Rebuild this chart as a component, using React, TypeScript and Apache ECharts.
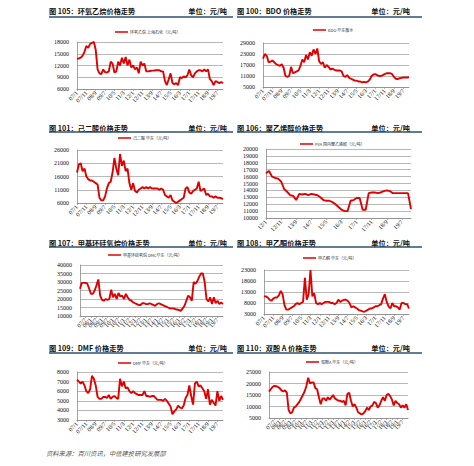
import React, { useEffect, useRef } from "react";
import * as echarts from "echarts";

// ---------- categories (bimonthly, YY/M) ----------
function bimonthly(y0: number, y1: number): string[] {
  const out: string[] = [];
  for (let y = y0; y <= y1; y++) {
    for (let m = 1; m <= 11; m += 2) {
      if (y === y1 && m > 1) break;
      out.push(`${String(y % 100).padStart(2, "0")}/${m}`);
    }
  }
  return out;
}
const CATS_07_20 = bimonthly(2007, 2020);
const CATS_12_20 = bimonthly(2012, 2020);

// ---------- tick labels ----------
const EO_TICKS = [6000, 9000, 12000, 15000, 18000];
const BDO_TICKS = [5000, 11000, 17000, 23000, 29000];
const ADA_TICKS = [6000, 11000, 16000, 21000, 26000];
const PVA_TICKS = [10000, 11000, 12000, 13000, 14000, 15000, 16000, 17000, 18000, 19000, 20000];
const DMC_TICKS = [10000, 15000, 20000, 25000, 30000, 35000, 40000];
const MEK_TICKS = [3000, 8000, 13000, 18000, 23000];
const DMF_TICKS = [3000, 4000, 5000, 6000, 7000, 8000];
const BPA_TICKS = [5000, 10000, 15000, 20000, 25000];

// ---------- series values (元/吨) ----------
const EO = [
  13700, 13800, 14000, 14500, 15500, 17000, 16500, 17500, 17800, 18000,
  16000, 11000, 10000, 9800, 11000, 10300, 10200, 10500, 13000, 12500,
  10200, 10500, 13000, 12000, 14000, 12500, 14200, 12000, 13500, 11500,
  12000, 11000, 11500, 10000, 13000, 12000, 12500, 10500, 10500, 10600,
  10700, 10700, 10800, 10800, 10800, 10500, 10500, 8000, 7000, 8500,
  10000, 7500, 7200, 7500, 7000, 9000, 8800, 9200, 9000, 9500,
  11000, 9500, 9000, 10000, 10500, 10800, 10800, 10500, 11000, 10500,
  11000, 8500, 8000, 7000, 8000, 7800, 7500, 7800, 7500,
];
const BDO = [
  20500, 23000, 22000, 18500, 18800, 19500, 18500, 17500, 17000, 16500,
  17500, 15500, 11000, 10500, 11000, 16000, 12500, 13000, 13500, 14000,
  16500, 20000, 18500, 22500, 20000, 24000, 22000, 25500, 23000, 26000,
  19000, 17500, 18500, 15500, 17000, 16000, 14500, 15000, 14500, 14000,
  14000, 14000, 13500, 11000, 10500, 11500, 10000, 9500, 9000, 8500,
  8500, 8000, 8000, 7500, 7800, 7500, 8000, 9000, 11000, 11800,
  12000, 11500, 11000, 11000, 11500, 12000, 12500, 12500, 12500, 12000,
  10500, 9500, 9300, 9800, 10000, 10200, 10200, 10200, 10300,
];
const ADA = [
  17500, 20500, 21000, 18000, 19000, 16000, 15000, 14500, 14500, 14000,
  13500, 13000, 8000, 7000, 7000, 8500, 11500, 13500, 14000, 17500,
  23000, 19000, 16500, 24500, 20000, 22000, 18000, 19000, 13500, 11000,
  13500, 10500, 10000, 11000, 11500, 12000, 11500, 12000, 11500, 12000,
  11500, 11500, 11500, 11500, 11000, 11500, 11000, 9000, 8500, 8000,
  9000, 7000, 6500, 6000, 6500, 7000, 7500, 8000, 11500, 12000,
  10000, 9500, 10500, 11000, 11500, 14000, 10500, 11000, 11500, 9000,
  9500, 8500, 8500, 8000, 8500, 8000, 8000, 7800, 7500,
];
const PVA = [
  16500, 16800, 16000, 15800, 15700, 15300, 14200, 13800, 13300, 13200,
  12600, 13500, 13400, 13500, 13300, 13500, 13400, 13300, 13000, 12600,
  12500, 12500, 12300, 12000, 11600, 11200, 11000, 11000, 12500, 12600,
  12900, 12900, 11200, 11200, 13600, 13700, 13700, 13600, 13700, 13900,
  14000, 13900, 13600, 13600, 13600, 13600, 13600, 13600, 11300,
];
const DMC = [
  26000, 29500, 29500, 29500, 29000, 26000, 23000, 23000, 25000, 28000,
  31500, 22000, 19500, 19000, 20000, 19500, 20000, 25500, 21000, 23000,
  20000, 23500, 21500, 22000, 20000, 23000, 21000, 19500, 19000, 18000,
  17500, 17000, 16500, 16500, 17500, 17500, 17000, 17000, 17500, 17000,
  16500, 16000, 17000, 17500, 17000, 16500, 16000, 15500, 15000, 14500,
  14500, 14500, 14000, 13800, 13500, 13000, 14500, 16000, 19000, 22000,
  21000, 19000, 30000, 29000, 30500, 33000, 35000, 35000, 30000, 20000,
  18500, 21000, 17000, 21000, 17500, 19000, 17000, 18000, 17000,
];
const MEK = [
  11000, 11000, 10500, 9500, 9000, 10000, 10500, 10500, 11500, 13500,
  12000, 7000, 5000, 5000, 5500, 6000, 6500, 7500, 8000, 7500,
  8000, 8500, 19500, 9500, 12000, 23000, 11000, 12500, 8000, 7500,
  8000, 7500, 8000, 8500, 8500, 8500, 8000, 8000, 7500, 8000,
  9500, 8500, 9000, 9500, 9500, 9000, 8000, 6000, 6500, 6000,
  5500, 4800, 4500, 4200, 4000, 4500, 5000, 5500, 5500, 6000,
  6500, 6500, 7000, 7500, 10000, 12000, 8500, 6500, 5500, 8000,
  6500, 6500, 6000, 5000, 8000, 8000, 7500, 7500, 5500,
];
const DMF = [
  7200, 7000, 6800, 7000, 6600, 6000, 5800, 6200, 7600, 7300,
  6600, 5400, 5200, 5200, 5400, 5400, 5300, 5600, 5200, 5400,
  5500, 5300, 5200, 7300, 6500, 7000, 6300, 6400, 6000, 5800,
  6000, 5800, 5700, 5600, 5600, 5600, 6000, 5500, 5500, 5400,
  5500, 5500, 5300, 5100, 5100, 5100, 5000, 5200, 5000, 4700,
  4400, 3600, 3900, 4100, 4500, 4300, 4200, 4500, 5300, 5600,
  6600, 5500, 4600, 6800, 7000, 6500, 6600, 6300, 6000, 5200,
  6200, 4600, 5100, 4800, 4500, 6000, 5000, 5500, 5100,
];
const BPA = [
  16500, 17500, 18500, 19000, 18800, 18500, 18000, 17000, 16500, 17000,
  16000, 8500, 7000, 7500, 9500, 10000, 11000, 12000, 13500, 15000,
  16500, 19000, 22500, 20000, 20500, 20500, 18000, 17500, 14000, 11000,
  13500, 13500, 12500, 14000, 13000, 14000, 15000, 13500, 13000, 12500,
  12500, 12000, 12500, 10500, 15500, 16000, 12500, 10000, 11000, 9500,
  7500, 7000, 6500, 7000, 8000, 9500, 8500, 10000, 10500, 12000,
  11500, 9500, 10500, 12500, 14000, 12500, 15000, 15500, 14500, 13000,
  10500, 12500, 11500, 11000, 9500, 10500, 9500, 11000, 8500,
];

// ---------- texts ----------
const TITLES = [
  "图 105：环氧乙烷价格走势",
  "图 100：BDO 价格走势",
  "图 101：己二酸价格走势",
  "图 106：聚乙烯醇价格走势",
  "图 107：甲基环硅氧烷价格走势",
  "图 108：甲乙酮价格走势",
  "图 109：DMF 价格走势",
  "图 110：双酚 A 价格走势",
];
const NAMES = [
  "环氧乙烷 上海石化（元/吨）",
  "BDO 华东散水",
  "己二酸 华东（元/吨）",
  "PVA 国内聚乙烯醇（元/吨）",
  "甲基环硅氧烷 DMC华东（元/吨）",
  "甲乙酮 华东（元/吨）",
  "DMF 华东（元/吨）",
  "双酚A 华东（元/吨）",
];
const UNIT = "单位：元/吨";
const SOURCE = "资料来源：百川资讯，中信建投研究发展部";

// ---------- layout ----------
const COLS = [
  { titleX: 49, unitX: 227, ruleX2: 233 },
  { titleX: 237, unitX: 410, ruleX2: 422 },
];
const ROWS = [
  { titleY: 11, ruleY: 17 },
  { titleY: 127.5, ruleY: 132 },
  { titleY: 242.5, ruleY: 247 },
  { titleY: 348, ruleY: 353 },
];
const PANELS = [
  { values: EO, ticks: EO_TICKS, cats: CATS_07_20, every: 5, grid: { left: 77, top: 42, width: 146, height: 47 }, legend: [115, 33] },
  { values: BDO, ticks: BDO_TICKS, cats: CATS_07_20, every: 5, grid: { left: 263, top: 43, width: 146, height: 44 }, legend: [313, 31] },
  { values: ADA, ticks: ADA_TICKS, cats: CATS_07_20, every: 5, grid: { left: 77, top: 150, width: 146, height: 53 }, legend: [118, 139] },
  { values: PVA, ticks: PVA_TICKS, cats: CATS_12_20, every: 5, grid: { left: 266, top: 149, width: 145, height: 69 }, legend: [300, 145] },
  { values: DMC, ticks: DMC_TICKS, cats: CATS_07_20, every: 3, grid: { left: 80, top: 265, width: 143, height: 51 }, legend: [108, 256] },
  { values: MEK, ticks: MEK_TICKS, cats: CATS_07_20, every: 5, grid: { left: 264, top: 270, width: 145, height: 44 }, legend: [303, 259] },
  { values: DMF, ticks: DMF_TICKS, cats: CATS_07_20, every: 5, grid: { left: 77, top: 372, width: 146, height: 48 }, legend: [118, 364] },
  { values: BPA, ticks: BPA_TICKS, cats: CATS_07_20, every: 3, grid: { left: 269, top: 372, width: 139, height: 46 }, legend: [306, 363] },
];

const RED = "#e10000";
const AXIS = "#8a8a8a";
const LABEL_FONT = "'Liberation Serif', 'DejaVu Serif', serif";
const CJK = "'Noto Sans CJK SC', sans-serif";

function buildOption() {
  const graphic: any[] = [];
  PANELS.forEach((_, i) => {
    const col = COLS[i % 2];
    const row = ROWS[Math.floor(i / 2)];
    graphic.push({
      type: "text", x: col.titleX, y: row.titleY,
      style: { text: TITLES[i], fontSize: 7.2, fontWeight: "bold", fontFamily: CJK, fill: "#111", textAlign: "left", textVerticalAlign: "middle" },
    });
    graphic.push({
      type: "text", x: col.unitX, y: row.titleY,
      style: { text: UNIT, fontSize: 7.2, fontWeight: "bold", fontFamily: CJK, fill: "#111", textAlign: "right", textVerticalAlign: "middle" },
    });
    graphic.push({
      type: "line",
      shape: { x1: col.titleX, y1: row.ruleY, x2: col.ruleX2, y2: row.ruleY },
      style: { stroke: "#2f4f6f", lineWidth: 1.5 },
    });
  });
  graphic.push({
    type: "text", x: 46, y: 453,
    style: { text: SOURCE, fontSize: 6.3, fontStyle: "italic", fontFamily: CJK, fill: "#555", textAlign: "left", textVerticalAlign: "middle" },
  });

  return {
    animation: false,
    backgroundColor: "#ffffff",
    grid: PANELS.map((p) => ({ ...p.grid, containLabel: false })),
    xAxis: PANELS.map((p, i) => ({
      type: "category",
      gridIndex: i,
      data: p.cats,
      boundaryGap: false,
      axisLine: { lineStyle: { color: AXIS, width: 0.8 } },
      axisTick: { show: true, interval: p.every - 1, length: 2, lineStyle: { color: AXIS, width: 0.6 } },
      axisLabel: { interval: p.every - 1, rotate: 45, fontSize: 6, color: "#111", margin: 3, fontFamily: LABEL_FONT },
      splitLine: { show: false },
    })),
    yAxis: PANELS.map((p, i) => {
      const base = p.ticks[0];
      const step = p.ticks[1] - p.ticks[0];
      const top = p.ticks[p.ticks.length - 1];
      return {
        type: "value",
        gridIndex: i,
        min: 0,
        max: top - base,
        interval: step,
        axisLine: { show: true, lineStyle: { color: AXIS, width: 0.8 } },
        axisTick: { show: false },
        splitLine: { show: true, lineStyle: { color: "#9a9a9a", width: 0.7 } },
        axisLabel: { formatter: (v: number) => String(v + base), fontSize: 6, color: "#111", margin: 8, fontFamily: LABEL_FONT },
      };
    }),
    legend: PANELS.map((p, i) => ({
      data: [NAMES[i]],
      left: p.legend[0],
      top: p.legend[1] - 3,
      icon: "rect",
      itemWidth: 13,
      itemHeight: 1.5,
      itemGap: 0,
      padding: 0,
      selectedMode: false,
      textStyle: { fontSize: 4, color: "#333", fontFamily: CJK, padding: [0, 0, 0, -3] },
    })),
    series: PANELS.map((p, i) => ({
      type: "line",
      name: NAMES[i],
      xAxisIndex: i,
      yAxisIndex: i,
      data: p.values.map((v) => v - p.ticks[0]),
      showSymbol: false,
      symbol: "none",
      lineStyle: { color: RED, width: 1.9 },
      itemStyle: { color: RED },
    })),
    graphic,
  };
}

export default function App() {
  const ref = useRef<HTMLDivElement>(null);
  useEffect(() => {
    if (!ref.current) return;
    const chart = echarts.init(ref.current, undefined, { renderer: "svg" });
    chart.setOption(buildOption() as any);
    return () => chart.dispose();
  }, []);
  return (
    <div
      ref={ref}
      style={{ position: "absolute", left: 0, top: 0, width: 474, height: 466, background: "#fff" }}
    />
  );
}
